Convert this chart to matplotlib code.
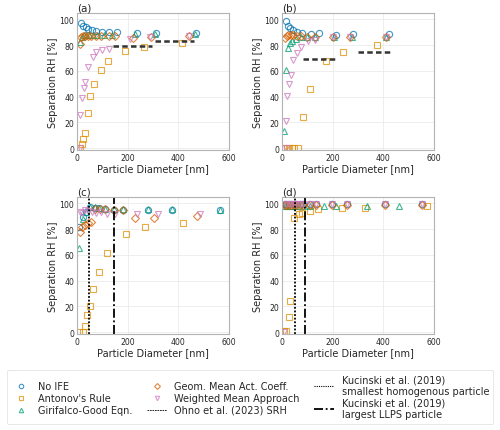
import matplotlib.pyplot as plt
from matplotlib.lines import Line2D

# colours (seaborn colorblind palette)
c_noife = '#0173b2'
c_anton = '#de8f05'
c_giri = '#029e73'
c_geom = '#d55e00'
c_wm = '#cc78bc'

# ---- panel (a) ----
a_noife_d = [14, 24, 34, 45, 58, 76, 97, 126, 156, 235, 312, 468]
a_noife_rh = [97.4, 95.2, 93.8, 92.8, 91.4, 90.6, 90.0, 90.0, 89.8, 89.6, 89.3, 89.3]
a_anton_d = [12, 18, 25, 30, 42, 53, 66, 93, 121, 191, 266, 413]
a_anton_rh = [0.2, 3, 7, 11.5, 27, 40.4, 49.5, 60.7, 67.4, 75.3, 78.6, 81.6]
a_giri_d = [12, 18, 26, 35, 48, 62, 80, 105, 140, 230, 308, 465]
a_giri_rh = [82.6, 86.5, 87.5, 87.5, 88, 88, 88, 88, 88, 88.5, 88.8, 88.8]
a_geom_d = [13, 17, 24, 32, 42, 56, 74, 96, 126, 150, 220, 291, 442]
a_geom_rh = [80.5, 86.5, 87.0, 87.2, 87.2, 87.2, 87.0, 87.0, 87.0, 87.0, 85.7, 86.2, 86.7]
a_wm_d = [10, 12, 20, 26, 33, 45, 63, 75, 100, 128, 209, 288, 442]
a_wm_rh = [0, 26, 39, 47, 51, 63, 71, 74.5, 76, 77, 84.5, 86, 86.7]
a_ohno_start = [143, 308]
a_ohno_end = [297, 463]
a_ohno_rh = [79.2, 83.0]

# ---- panel (b) ----
b_noife_d = [14, 22, 32, 42, 58, 78, 114, 146, 212, 282, 424]
b_noife_rh = [98.7, 95, 93, 91.7, 90.4, 89.6, 89, 89.3, 88, 88.3, 88.3]
b_anton_d = [9, 18, 29, 38, 48, 64, 84, 110, 175, 242, 375]
b_anton_rh = [0, 0, 0, 0, 0, 0, 24, 46, 67.8, 74.8, 80]
b_giri_d = [9, 16, 22, 30, 40, 55, 75, 100, 130, 205, 275, 412]
b_giri_rh = [13, 60.5, 77.4, 81.8, 83, 84.7, 86, 86.5, 86.5, 86, 86, 86.5]
b_geom_d = [12, 18, 25, 35, 45, 58, 75, 100, 130, 200, 270, 410]
b_geom_rh = [85.7, 87, 87.5, 87.5, 87.5, 87.2, 86.8, 86.5, 86.5, 86.5, 86, 86.5]
b_wm_d = [14, 16, 21, 29, 34, 45, 60, 74, 104, 130, 200, 270, 410]
b_wm_rh = [0, 21, 40.5, 49.4, 56.6, 68.8, 73.5, 78.7, 83, 84, 86, 86, 86.5]
b_ohno_start = [82, 299]
b_ohno_end = [218, 427]
b_ohno_rh = [69.0, 74.3]

# ---- panel (c) ----
c_noife_d = [9, 22, 35, 51, 71, 88, 110, 146, 183, 279, 374, 565]
c_noife_rh = [82, 89.5, 93, 97.2, 96.7, 96.1, 95.9, 95.1, 95.1, 95.1, 95.1, 94.8]
c_anton_d = [9, 22, 32, 38, 51, 62, 88, 117, 193, 269, 418]
c_anton_rh = [0, 0, 4.4, 12.9, 19.9, 33.7, 46.7, 61.7, 76.5, 81.6, 84.7]
c_giri_d = [8, 22, 35, 51, 71, 88, 110, 146, 183, 279, 374, 565]
c_giri_rh = [65.5, 88, 93, 97.5, 97, 96.5, 96, 95.3, 95.3, 95.3, 95.3, 95]
c_geom_d = [12, 20, 30, 42, 55, 70, 90, 110, 148, 183, 228, 305, 474]
c_geom_rh = [78, 82, 83, 84.5, 85.5, 96, 96, 95.5, 95, 94.8, 88.8, 88.9, 90.2]
c_wm_d = [10, 20, 30, 45, 60, 75, 95, 120, 150, 237, 320, 484]
c_wm_rh = [93, 92.5, 95, 94, 93, 92.5, 93, 91.5, 92, 91.5, 91.5, 91.7]
c_kuc_small = 47
c_kuc_large = 148

# ---- panel (d) ----
d_noife_d = [10, 17, 27, 37, 47, 57, 70, 83, 110, 136, 199, 255, 406, 551]
d_noife_rh = [99.4, 99.4, 99.4, 99.4, 99.4, 99.4, 99.4, 99.4, 99.3, 99.3, 99.3, 99.3, 99.3, 99.3]
d_anton_d = [8, 17, 26, 33, 46, 66, 80, 110, 142, 235, 327, 571]
d_anton_rh = [0.5, 0.5, 11.7, 23.8, 88.9, 92, 92.7, 94.3, 95.3, 96.6, 96.6, 97.9]
d_giri_d = [10, 20, 30, 40, 52, 65, 85, 110, 164, 215, 336, 462]
d_giri_rh = [98, 98, 98, 98, 98, 98, 98, 98, 98, 98, 98, 98]
d_geom_d = [10, 17, 27, 37, 47, 57, 70, 83, 110, 136, 199, 255, 406, 551]
d_geom_rh = [99, 99, 99, 99, 99, 99, 99, 99, 99, 99, 99, 99, 99, 99]
d_wm_d = [8, 17, 27, 37, 47, 57, 70, 83, 110, 136, 199, 255, 406, 551]
d_wm_rh = [0, 99.4, 99.4, 99.4, 99.4, 99.4, 99.4, 99.4, 99.3, 99.3, 99.3, 99.3, 99.3, 99.3]
d_kuc_small = 53
d_kuc_large = 92

plt.rcParams['font.family'] = ['DejaVu Sans']
plt.rcParams['text.color'] = '#262626'
plt.rcParams['axes.labelcolor'] = '#262626'
plt.rcParams['xtick.color'] = '#262626'
plt.rcParams['ytick.color'] = '#262626'

fig = plt.figure(figsize=(5.0, 4.31), dpi=100)

boxes = [[0.154, 0.6497, 0.304, 0.318], [0.564, 0.6497, 0.304, 0.318],
         [0.154, 0.2227, 0.304, 0.318], [0.564, 0.2227, 0.304, 0.318]]

panels = [
    ('(a)', a_noife_d, a_noife_rh, a_anton_d, a_anton_rh, a_giri_d, a_giri_rh,
     a_geom_d, a_geom_rh, a_wm_d, a_wm_rh),
    ('(b)', b_noife_d, b_noife_rh, b_anton_d, b_anton_rh, b_giri_d, b_giri_rh,
     b_geom_d, b_geom_rh, b_wm_d, b_wm_rh),
    ('(c)', c_noife_d, c_noife_rh, c_anton_d, c_anton_rh, c_giri_d, c_giri_rh,
     c_geom_d, c_geom_rh, c_wm_d, c_wm_rh),
    ('(d)', d_noife_d, d_noife_rh, d_anton_d, d_anton_rh, d_giri_d, d_giri_rh,
     d_geom_d, d_geom_rh, d_wm_d, d_wm_rh),
]

ms = 4.5
mew = 0.8
al = 0.75
axes = []
for box, p in zip(boxes, panels):
    ax = fig.add_axes(box)
    lab, n_d, n_r, an_d, an_r, g_d, g_r, ge_d, ge_r, w_d, w_r = p
    ax.plot(n_d, n_r, 'o', ms=ms, mfc='none', mec=c_noife, mew=mew, alpha=al)
    ax.plot(an_d, an_r, 's', ms=ms, mfc='none', mec=c_anton, mew=mew, alpha=al)
    ax.plot(g_d, g_r, '^', ms=ms, mfc='none', mec=c_giri, mew=mew, alpha=al)
    ax.plot(ge_d, ge_r, 'D', ms=ms * 0.85, mfc='none', mec=c_geom, mew=mew, alpha=al)
    ax.plot(w_d, w_r, 'v', ms=ms, mfc='none', mec=c_wm, mew=mew, alpha=al)
    ax.set_xlim(0, 600)
    ax.set_ylim(-1.5, 105)
    ax.set_xticks([0, 200, 400, 600])
    ax.set_yticks([0, 20, 40, 60, 80, 100])
    ax.tick_params(length=0, labelsize=5.6, pad=2)
    ax.grid(True, color='#ebebeb', lw=0.6)
    ax.set_axisbelow(True)
    for s in ax.spines.values():
        s.set_color('#b3b3b3')
        s.set_linewidth(0.8)
    ax.set_xlabel('Particle Diameter [nm]', fontsize=7, labelpad=1)
    ax.set_ylabel('Separation RH [%]', fontsize=7, labelpad=1)
    ax.set_title(lab, loc='left', fontsize=7.5, pad=1.5)
    axes.append(ax)

# Ohno et al. SRH segments
for ax, xs, xe, yy in [(axes[0], a_ohno_start, a_ohno_end, a_ohno_rh),
                       (axes[1], b_ohno_start, b_ohno_end, b_ohno_rh)]:
    ax.hlines(yy, xs, xe, colors='#333333', linestyles=(0, (2.2, 1.3)), lw=1.8)

# Kucinski et al. vertical lines
for ax, xs, xl in [(axes[2], c_kuc_small, c_kuc_large),
                   (axes[3], d_kuc_small, d_kuc_large)]:
    ax.axvline(xs, color='black', ls=(0, (1, 1)), lw=1.3)
    ax.axvline(xl, color='black', ls=(0, (5, 1.5, 1, 1.5)), lw=1.3)

handles = [
    Line2D([], [], ls='none', marker='o', ms=3.2, mfc='none', mec=c_noife, mew=0.8, alpha=al),
    Line2D([], [], ls='none', marker='s', ms=3.2, mfc='none', mec=c_anton, mew=0.8, alpha=al),
    Line2D([], [], ls='none', marker='^', ms=3.2, mfc='none', mec=c_giri, mew=0.8, alpha=al),
    Line2D([], [], ls='none', marker='D', ms=3.0, mfc='none', mec=c_geom, mew=0.8, alpha=al),
    Line2D([], [], ls='none', marker='v', ms=3.2, mfc='none', mec=c_wm, mew=0.8, alpha=al),
    Line2D([], [], color='black', ls=(0, (2, 1)), lw=0.6),
    Line2D([], [], color='black', ls=(0, (1, 1)), lw=0.8),
    Line2D([], [], color='black', ls=(0, (5, 1.5, 1, 1.5)), lw=1.3),
]
labels = ['No IFE', "Antonov's Rule", 'Girifalco-Good Eqn.',
          'Geom. Mean Act. Coeff.', 'Weighted Mean Approach', 'Ohno et al. (2023) SRH',
          'Kucinski et al. (2019)\nsmallest homogenous particle',
          'Kucinski et al. (2019)\nlargest LLPS particle']
leg = fig.legend(handles, labels, ncol=3, loc='lower center',
                 bbox_to_anchor=(0.5, 0.01), fontsize=7, frameon=True,
                 handlelength=2.0, columnspacing=1.5, labelspacing=0.2,
                 borderpad=0.45, borderaxespad=0.2, fancybox=True, edgecolor='#dddddd')
leg.get_frame().set_linewidth(0.6)

fig.savefig('out.png', dpi=100)
